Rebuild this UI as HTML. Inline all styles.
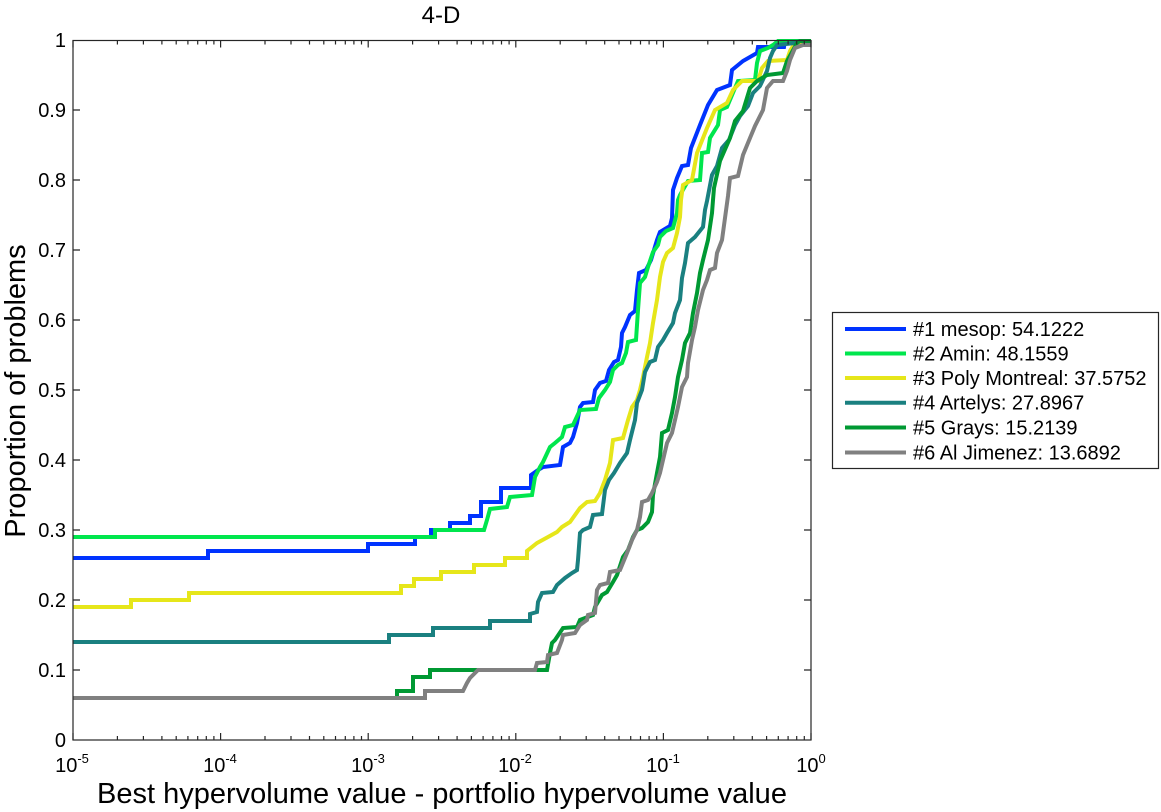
<!DOCTYPE html>
<html>
<head>
<meta charset="utf-8">
<style>
html,body{margin:0;padding:0;background:#fff;}
svg{display:block;}
text{font-family:"Liberation Sans",Arial,sans-serif;fill:#000;}
</style>
</head>
<body>
<svg width="1161" height="812" viewBox="0 0 1161 812" xmlns="http://www.w3.org/2000/svg">
<rect x="0" y="0" width="1161" height="812" fill="#fff"/>

<!-- title -->
<text x="441" y="23" font-size="24" text-anchor="middle">4-D</text>

<!-- series -->
<g fill="none" stroke-width="4" stroke-linejoin="miter">
<polyline stroke="#0033ff" points="73,558 208,558 208,551 368,551 368,544 415,544 415,537 431,537 431,530 450,530 450,523 470,523 470,516 481,516 481,502 501,502 501,488 531,488 531,475 538,470 543,467 560,465 563,447 570,443 573,437 577,423 580,407 583,403 593,402 595,390 600,383 606,381 609,370 614,362 618,360 621,347 622,333 625,327 630,315 635,311 637,290 639,273 646,270 651,260 654,250 657,240 660,232 665,229 670,226 672,218 673,190 677,178 682,166 688,165 691,148 700,125 708,105 717,90 730,85 732,70 743,61 757,53 758,47 784,47 785,41 811,41"/>
<polyline stroke="#00e64d" points="73,537 435,537 435,530 484,530 487,520 490,509 507,507 510,497 532,495 535,477 540,467 543,462 550,447 555,443 562,437 565,427 573,425 580,410 596,409 599,398 605,390 610,382 613,370 618,365 622,363 626,353 628,342 636,340 638,310 640,283 645,277 648,267 653,252 658,245 660,237 666,231 673,228 677,213 678,200 680,195 688,181 700,180 702,153 708,152 710,138 718,125 720,110 727,107 735,88 738,81 755,80 757,63 760,51 768,48 773,45 778,41 811,41"/>
<polyline stroke="#e6e61a" points="73,607 131,607 131,600 189,600 189,593 401,593 401,586 414,586 414,579 441,579 441,572 474,572 474,565 505,565 505,558 527,558 527,551 537,543 548,537 557,532 562,527 570,522 580,508 587,502 595,501 600,493 605,480 610,463 613,440 623,438 628,420 632,407 637,400 640,390 643,377 647,357 650,343 653,323 657,300 660,277 663,262 667,253 673,248 677,233 680,217 681,200 683,185 692,180 697,153 707,128 715,110 727,103 733,90 742,81 758,81 762,68 768,61 787,60 790,51 793,46 802,43 805,41 811,41"/>
<polyline stroke="#1a8080" points="73,642 389,642 389,635 433,635 433,628 490,628 490,621 530,621 530,614 537,612 538,602 542,593 553,592 557,585 565,578 572,573 577,570 578,560 580,533 583,530 590,527 593,515 602,514 605,490 609,480 614,473 620,463 627,453 630,440 635,420 637,403 642,390 645,372 650,362 655,360 658,347 663,340 667,333 673,323 675,313 680,300 682,278 685,263 688,243 695,237 703,227 705,210 707,201 712,175 717,166 722,148 729,140 735,125 740,116 748,106 753,93 760,86 767,71 770,58 773,51 777,45 795,43 800,41 811,41"/>
<polyline stroke="#009933" points="73,698 397,698 397,691 413,691 413,677 430,677 430,670 547,670 550,653 552,643 555,640 563,628 577,627 580,620 593,615 595,607 602,595 607,592 610,587 613,582 617,575 623,557 628,550 633,537 637,530 642,528 648,522 652,512 653,495 657,473 660,457 662,433 668,430 672,413 675,397 678,377 682,360 685,343 690,333 693,313 697,293 700,273 703,260 708,240 712,213 713,200 714,188 720,161 730,138 735,121 743,111 750,88 757,81 767,75 783,73 787,61 797,43 800,41 811,41"/>
<polyline stroke="#808080" points="73,698 425,698 425,691 463,691 467,683 470,678 473,675 478,670 535,670 537,663 547,662 548,655 557,653 562,640 563,635 575,633 580,625 587,620 588,615 595,613 597,590 600,585 608,583 610,572 620,570 627,553 632,540 637,530 640,517 642,502 648,500 652,493 657,482 660,473 663,460 667,443 672,433 675,420 678,407 682,387 687,377 688,363 692,340 695,327 698,310 703,290 707,280 710,270 715,268 717,253 722,240 725,218 728,196 730,178 738,176 743,155 750,138 755,126 763,110 767,88 773,81 783,81 787,71 790,60 795,48 803,45 811,45"/>
</g>

<!-- axes box -->
<rect x="73" y="40.5" width="738" height="699.5" fill="none" stroke="#262626" stroke-width="1.2"/>

<!-- ticks -->
<g stroke="#262626" stroke-width="1.2" fill="none">
<path d="M73,740V733M220.6,740V733M368.2,740V733M515.8,740V733M663.4,740V733M811,740V733
M73,40.5V47.5M220.6,40.5V47.5M368.2,40.5V47.5M515.8,40.5V47.5M663.4,40.5V47.5M811,40.5V47.5"/>
<path d="M117.4,740V736M143.4,740V736M161.9,740V736M176.2,740V736M187.9,740V736M197.7,740V736M206.3,740V736M213.9,740V736
M265,740V736M291,740V736M309.5,740V736M323.8,740V736M335.5,740V736M345.3,740V736M353.9,740V736M361.5,740V736
M412.6,740V736M438.6,740V736M457.1,740V736M471.4,740V736M483.1,740V736M492.9,740V736M501.5,740V736M509.1,740V736
M560.2,740V736M586.2,740V736M604.7,740V736M619,740V736M630.7,740V736M640.5,740V736M649.1,740V736M656.7,740V736
M707.8,740V736M733.8,740V736M752.3,740V736M766.6,740V736M778.3,740V736M788.1,740V736M796.7,740V736M804.3,740V736"/>
<path d="M117.4,40.5V44.5M143.4,40.5V44.5M161.9,40.5V44.5M176.2,40.5V44.5M187.9,40.5V44.5M197.7,40.5V44.5M206.3,40.5V44.5M213.9,40.5V44.5
M265,40.5V44.5M291,40.5V44.5M309.5,40.5V44.5M323.8,40.5V44.5M335.5,40.5V44.5M345.3,40.5V44.5M353.9,40.5V44.5M361.5,40.5V44.5
M412.6,40.5V44.5M438.6,40.5V44.5M457.1,40.5V44.5M471.4,40.5V44.5M483.1,40.5V44.5M492.9,40.5V44.5M501.5,40.5V44.5M509.1,40.5V44.5
M560.2,40.5V44.5M586.2,40.5V44.5M604.7,40.5V44.5M619,40.5V44.5M630.7,40.5V44.5M640.5,40.5V44.5M649.1,40.5V44.5M656.7,40.5V44.5
M707.8,40.5V44.5M733.8,40.5V44.5M752.3,40.5V44.5M766.6,40.5V44.5M778.3,40.5V44.5M788.1,40.5V44.5M796.7,40.5V44.5M804.3,40.5V44.5"/>
<path d="M73,670H80M73,600H80M73,530H80M73,460H80M73,390H80M73,320H80M73,250H80M73,180H80M73,110H80
M811,670H804M811,600H804M811,530H804M811,460H804M811,390H804M811,320H804M811,250H804M811,180H804M811,110H804"/>
</g>

<!-- y tick labels -->
<g font-size="20" text-anchor="end">
<text x="66" y="747">0</text>
<text x="66" y="677">0.1</text>
<text x="66" y="607">0.2</text>
<text x="66" y="537">0.3</text>
<text x="66" y="467">0.4</text>
<text x="66" y="397">0.5</text>
<text x="66" y="327">0.6</text>
<text x="66" y="257">0.7</text>
<text x="66" y="187">0.8</text>
<text x="66" y="117">0.9</text>
<text x="66" y="47">1</text>
</g>

<!-- x tick labels -->
<g font-size="20" text-anchor="middle">
<text x="72" y="772">10<tspan font-size="13" dy="-9">-5</tspan></text>
<text x="220" y="772">10<tspan font-size="13" dy="-9">-4</tspan></text>
<text x="368" y="772">10<tspan font-size="13" dy="-9">-3</tspan></text>
<text x="515" y="772">10<tspan font-size="13" dy="-9">-2</tspan></text>
<text x="663" y="772">10<tspan font-size="13" dy="-9">-1</tspan></text>
<text x="811" y="772">10<tspan font-size="13" dy="-9">0</tspan></text>
</g>

<!-- axis labels -->
<text x="442" y="803" font-size="29" text-anchor="middle">Best hypervolume value - portfolio hypervolume value</text>
<text transform="translate(25,391) rotate(-90)" font-size="29" text-anchor="middle">Proportion of problems</text>

<!-- legend -->
<rect x="832.5" y="312.5" width="326" height="156" fill="#fff" stroke="#262626" stroke-width="1.2"/>
<g stroke-width="4">
<line x1="845" y1="329" x2="906" y2="329" stroke="#0033ff"/>
<line x1="845" y1="353.5" x2="906" y2="353.5" stroke="#00e64d"/>
<line x1="845" y1="378" x2="906" y2="378" stroke="#e6e61a"/>
<line x1="845" y1="402.7" x2="906" y2="402.7" stroke="#1a8080"/>
<line x1="845" y1="427.5" x2="906" y2="427.5" stroke="#009933"/>
<line x1="845" y1="452.5" x2="906" y2="452.5" stroke="#808080"/>
</g>
<g font-size="20">
<text x="913" y="336">#1 mesop: 54.1222</text>
<text x="913" y="360.5">#2 Amin: 48.1559</text>
<text x="913" y="385">#3 Poly Montreal: 37.5752</text>
<text x="913" y="409.7">#4 Artelys: 27.8967</text>
<text x="913" y="434.5">#5 Grays: 15.2139</text>
<text x="913" y="459.5">#6 Al Jimenez: 13.6892</text>
</g>
</svg>
</body>
</html>
